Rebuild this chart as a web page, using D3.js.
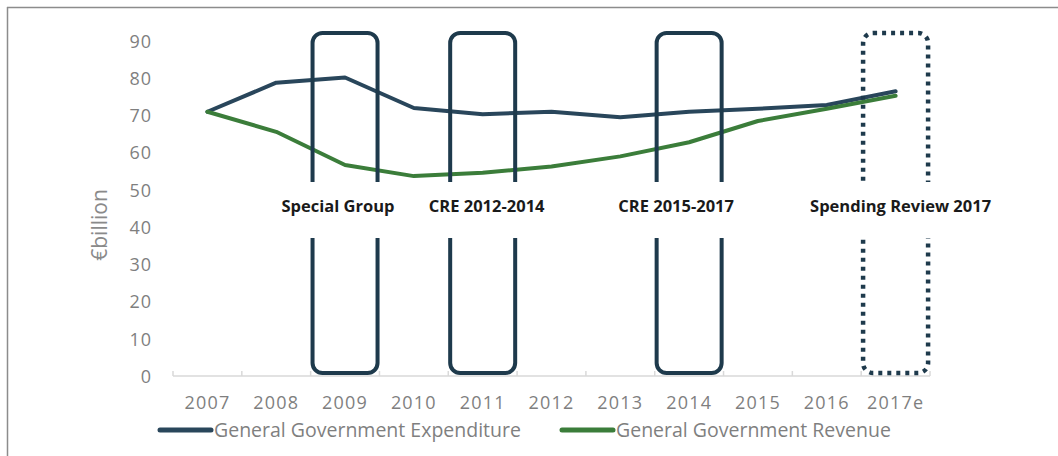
<!DOCTYPE html>
<html>
<head>
<meta charset="utf-8">
<script src="https://cdn.jsdelivr.net/npm/d3@7"></script>
<style>
  html, body { margin: 0; padding: 0; background: #fff; }
  svg { display: block; }
  text { font-family: "Open Sans", "Noto Sans", sans-serif; }
</style>
</head>
<body>
<svg id="chart" width="1058" height="456"></svg>
<script>
// Years on the category axis
const years = ["2007", "2008", "2009", "2010", "2011", "2012", "2013", "2014", "2015", "2016", "2017e"];

// General government spending and income, € billion
const expenditure = [71.0, 78.8, 80.2, 72.0, 70.3, 71.0, 69.5, 71.0, 71.8, 72.8, 76.5];
const revenue     = [71.0, 65.6, 56.7, 53.7, 54.6, 56.3, 59.0, 62.8, 68.5, 71.8, 75.3];

// Y-axis tick values
const yTicks = [0, 10, 20, 30, 40, 50, 60, 70, 80, 90];

// Review periods drawn as highlight frames around a year
const reviewYears  = ["2009", "2011", "2014", "2017e"];
const reviewNames  = ["Special Group", "CRE 2012-2014", "CRE 2015-2017", "Spending Review 2017"];
const reviewDotted = [false, false, false, true];

const seriesNames = ["General Government Expenditure", "General Government Revenue"];
const seriesColors = ["#29465b", "#3b7d3a"];

const svg = d3.select("#chart");

// Outer frame (top and left edges)
svg.append("line").attr("x1", 7).attr("x2", 1058).attr("y1", 7.5).attr("y2", 7.5)
  .attr("stroke", "#8c8c8c").attr("stroke-width", 1.5);
svg.append("line").attr("x1", 7.5).attr("x2", 7.5).attr("y1", 7).attr("y2", 456)
  .attr("stroke", "#8c8c8c").attr("stroke-width", 1.5);

const x = d3.scaleBand().domain(years).range([173, 930]).padding(0);
const y = d3.scaleLinear().domain([0, 90]).range([376, 41]);
const cx = d => x(d) + x.bandwidth() / 2;

// Y axis labels (no axis line)
const yAxis = d3.axisLeft(y).tickValues(yTicks).tickSize(0).tickPadding(0);
const gy = svg.append("g").attr("transform", "translate(152,0)").call(yAxis);
gy.select(".domain").remove();
gy.selectAll("text")
  .attr("fill", "#7f7f7f").attr("font-size", 18).attr("dy", "0.35em")
  .attr("letter-spacing", 1)
  .style("font-family", "'Open Sans', sans-serif");

// X axis: light baseline with short upward ticks at band edges
svg.append("line").attr("x1", 173).attr("x2", 930).attr("y1", 376).attr("y2", 376)
  .attr("stroke", "#d9d9d9").attr("stroke-width", 1.5);
svg.append("g").selectAll("line")
  .data(years.map(d => x(d)).concat([x(years[years.length - 1]) + x.bandwidth()]))
  .join("line")
  .attr("x1", d => d).attr("x2", d => d).attr("y1", 371).attr("y2", 376)
  .attr("stroke", "#d9d9d9").attr("stroke-width", 1.5);
const xAxis = d3.axisBottom(x).tickSize(0).tickPadding(0);
const gx = svg.append("g").attr("transform", "translate(0,403)").call(xAxis);
gx.select(".domain").remove();
gx.selectAll("text")
  .attr("fill", "#7f7f7f").attr("font-size", 18).attr("dy", "0.35em")
  .attr("letter-spacing", 1.2)
  .style("font-family", "'Open Sans', sans-serif");

// Y axis title
svg.append("text")
  .attr("transform", "translate(100,225) rotate(-90)")
  .attr("text-anchor", "middle").attr("dy", "0.35em")
  .attr("fill", "#8a8a8a").attr("font-size", 21)
  .text("€billion");

// Series lines
const line = d3.line().x((d, i) => cx(years[i])).y(d => y(d));
[expenditure, revenue].forEach((vals, k) => {
  svg.append("path").datum(vals)
    .attr("d", line)
    .attr("fill", "none")
    .attr("stroke", seriesColors[k])
    .attr("stroke-width", 4)
    .attr("stroke-linejoin", "round")
    .attr("stroke-linecap", "round");
});

// Review frames: rounded rectangles centred on a year, broken where the caption sits
const frameW = 65, frameTop = 33, frameBottom = 373, gapTop = 182, gapBottom = 238;
const labelShift = [-7, 4, -13, 5];
const boxColor = "#1e3a4c";
reviewYears.forEach((yr, i) => {
  const c = cx(yr);
  const g = svg.append("g");
  g.append("rect")
    .attr("x", c - frameW / 2).attr("y", frameTop)
    .attr("width", frameW).attr("height", frameBottom - frameTop)
    .attr("rx", 10).attr("ry", 10)
    .attr("fill", "none")
    .attr("stroke", boxColor)
    .attr("stroke-width", reviewDotted[i] ? 4.5 : 4)
    .attr("stroke-dasharray", reviewDotted[i] ? "4,5" : null);
  // white band clearing the frame behind the caption
  g.append("rect")
    .attr("x", c - frameW / 2 - 4).attr("y", gapTop)
    .attr("width", frameW + 8).attr("height", gapBottom - gapTop)
    .attr("fill", "#fff");
  g.append("text")
    .attr("x", c + labelShift[i]).attr("y", 206)
    .attr("text-anchor", "middle").attr("dy", "0.35em")
    .attr("font-size", 16.5).attr("font-weight", 700)
    .attr("fill", "#1a1a1a")
    .text(reviewNames[i]);
});

// Legend
const legendX = [160, 562];
seriesNames.forEach((name, k) => {
  svg.append("line")
    .attr("x1", legendX[k]).attr("x2", legendX[k] + 51)
    .attr("y1", 430).attr("y2", 430)
    .attr("stroke", seriesColors[k]).attr("stroke-width", 5)
    .attr("stroke-linecap", "round");
  svg.append("text")
    .attr("x", legendX[k] + 54).attr("y", 430).attr("dy", "0.35em")
    .attr("font-size", 19.5).attr("fill", "#7f7f7f")
    .text(name);
});
</script>
</body>
</html>
